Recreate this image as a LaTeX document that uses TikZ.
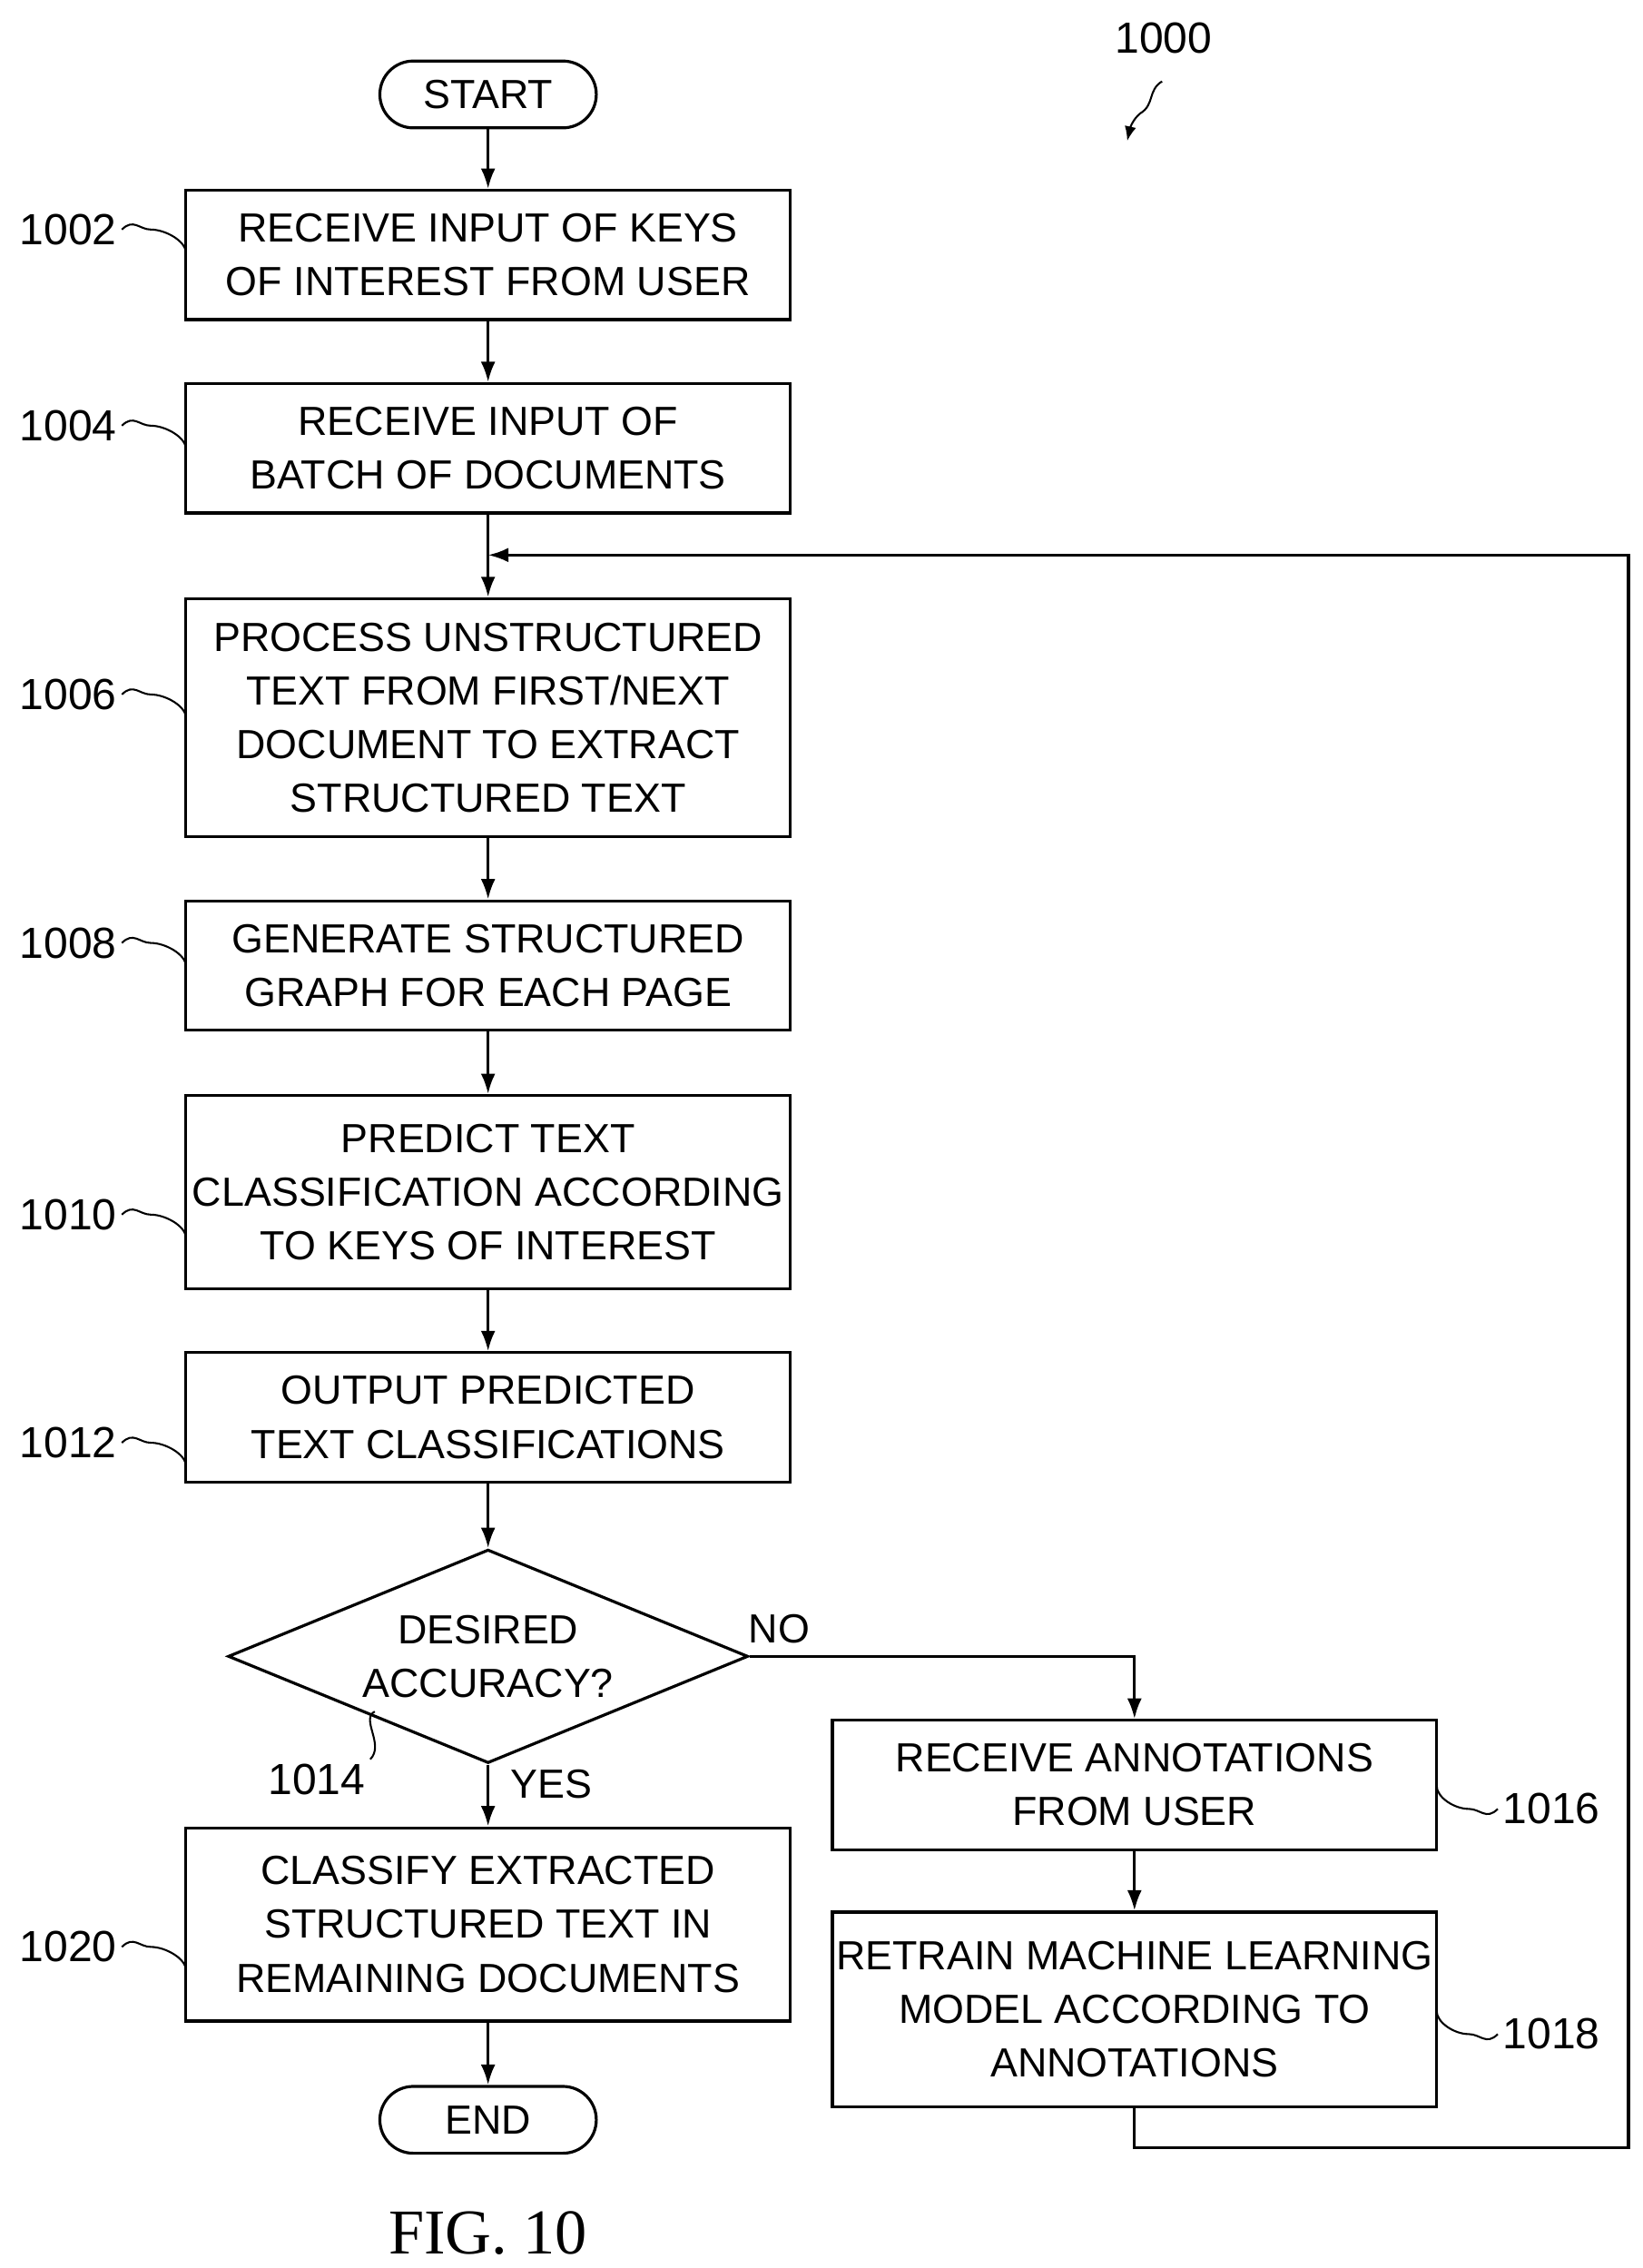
\documentclass[tikz,border=0pt]{standalone}
\usepackage{fontspec}
\setmainfont{Liberation Sans}
\usetikzlibrary{shapes.geometric,arrows.meta}
\begin{document}
\begin{tikzpicture}[x=1pt,y=-1pt,
  every node/.style={font=\fontsize{28}{37}\selectfont},
  box/.style={draw,line width=2pt,minimum width=416pt,align=center,inner sep=0pt},
  term/.style={draw,line width=2pt,rounded corners=23pt,minimum width=149pt,minimum height=46pt,inner sep=0pt},
  ar/.style={line width=2pt,-{Latex[length=14pt,width=10pt]}},
  ln/.style={line width=1.3pt},
  lbl/.style={font=\fontsize{30}{36}\selectfont}]
\useasboundingbox (0,0) rectangle (1131,1561);
\node[term] (start) at (336,65) {START};
\node[box,minimum height=89pt] (b1002) at (336,175.5) {RECEIVE INPUT OF KEYS\\OF INTEREST FROM USER};
\node[box,minimum height=89pt] (b1004) at (336,308.5) {RECEIVE INPUT OF\\BATCH OF DOCUMENTS};
\node[box,minimum height=164pt] (b1006) at (336,494) {PROCESS UNSTRUCTURED\\TEXT FROM FIRST/NEXT\\DOCUMENT TO EXTRACT\\STRUCTURED TEXT};
\node[box,minimum height=89pt] (b1008) at (336,664.5) {GENERATE STRUCTURED\\GRAPH FOR EACH PAGE};
\node[box,minimum height=133pt] (b1010) at (336,820.5) {PREDICT TEXT\\CLASSIFICATION ACCORDING\\TO KEYS OF INTEREST};
\node[box,minimum height=89pt] (b1012) at (336,975.5) {OUTPUT PREDICTED\\TEXT CLASSIFICATIONS};
\node[draw,line width=2pt,diamond,aspect=2.44,minimum width=358pt,minimum height=147pt,inner sep=0pt,align=center] (d1014) at (336,1140) {DESIRED\\ACCURACY?};
\node[box,minimum height=133pt] (b1020) at (336,1324.5) {CLASSIFY EXTRACTED\\STRUCTURED TEXT IN\\REMAINING DOCUMENTS};
\node[term] (end) at (336,1459) {END};
\node[box,minimum height=89pt] (b1016) at (781,1228.5) {RECEIVE ANNOTATIONS\\FROM USER};
\node[box,minimum height=134pt] (b1018) at (781,1383) {RETRAIN MACHINE LEARNING\\MODEL ACCORDING TO\\ANNOTATIONS};
\coordinate (m) at (336,382);
\draw[ar] (start) -- (b1002);
\draw[ar] (b1002) -- (b1004);
\draw[line width=2pt] (b1004) -- (m);
\draw[ar] (m) -- (b1006);
\draw[ar] (b1006) -- (b1008);
\draw[ar] (b1008) -- (b1010);
\draw[ar] (b1010) -- (b1012);
\draw[ar] (b1012) -- (d1014);
\draw[ar] (d1014) -- (b1020);
\draw[ar] (b1020) -- (end);
\draw[ar] (d1014.east) -| (b1016.north);
\draw[ar] (b1016) -- (b1018);
\draw[ar] (b1018.south) -- (781,1478) -- (1121,1478) -- (1121,382) -- (m);
\node[anchor=west] (no) at (512,1121) {NO};
\node[anchor=west] (yes) at (348,1228) {YES};
\node[lbl] (l1002) at (47,158) {1002};
\node[lbl] (l1004) at (47,293) {1004};
\node[lbl] (l1006) at (47,478) {1006};
\node[lbl] (l1008) at (47,649) {1008};
\node[lbl] (l1010) at (47,836) {1010};
\node[lbl] (l1012) at (47,993) {1012};
\node[lbl] (l1020) at (47,1340) {1020};
\node[lbl] (l1016) at (1068,1245) {1016};
\node[lbl] (l1018) at (1068,1400) {1018};
\node[lbl] (l1014) at (218,1225) {1014};
\node[lbl] (l1000) at (801,26) {1000};
\foreach \n/\y in {1002/158,1004/293,1006/478,1008/649,1010/836,1012/993,1020/1340}
  \draw[ln] (l\n.east) .. controls +(8,-8) and +(-8,0) .. +(20,0) .. controls +(10,0) and +(0,-8) .. (128,\y+16);
\foreach \n/\y in {1016/1245,1018/1400}
  \draw[ln] (l\n.west) .. controls +(-8,8) and +(8,0) .. +(-20,0) .. controls +(-10,0) and +(0,8) .. (989,\y-16);
\draw[ln] (l1014.north east) .. controls +(10,-10) and +(-10,5) .. (258,1178);
\draw[line width=1.3pt,-{Latex[length=10pt,width=8pt]}] (800,56) .. controls (790,62) and (795,72) .. (785,78) .. controls (780,82) and (778,88) .. (776,97);
\node[font=\fontsize{44}{50}\selectfont\rmfamily] (fig) at (336,1537) {\setmainfont{Liberation Serif}FIG. 10};
\end{tikzpicture}
\end{document}
